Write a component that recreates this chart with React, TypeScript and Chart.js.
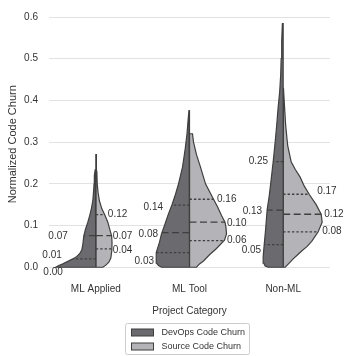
import React, { useEffect, useRef } from 'react';
import { Chart, registerables } from 'chart.js';

Chart.register(...registerables);

// ---------------- data ----------------
const categories = ['ML Applied', 'ML Tool', 'Non-ML'];
const seriesNames = ['DevOps Code Churn', 'Source Code Churn'];
const yTickValues = [0, 0.1, 0.2, 0.3, 0.4, 0.5, 0.6];

// half-violin outlines: [normalized churn, density half-width]
const mlAppliedDevOpsShape = [
  [0, 40], [0.004, 37], [0.008, 33], [0.014, 28], [0.02, 23], [0.026, 19], [0.033, 16],
  [0.042, 14], [0.055, 13], [0.075, 12], [0.09, 10.5], [0.108, 8], [0.125, 6], [0.14, 4.5],
  [0.16, 3], [0.18, 2.3], [0.2, 1.8], [0.22, 1.5], [0.235, 0.6],
];
const mlAppliedSourceShape = [
  [0, 7], [0.005, 10], [0.012, 13], [0.022, 15], [0.04, 16], [0.06, 16.2], [0.075, 15.8],
  [0.09, 14], [0.108, 12], [0.125, 9], [0.14, 6], [0.16, 3.5], [0.18, 2.2], [0.2, 1.4],
  [0.23, 1], [0.255, 0.8], [0.27, 0.4],
];
const mlToolDevOpsShape = [
  [0, 28], [0.004, 31], [0.01, 33], [0.02, 33.5], [0.035, 33], [0.06, 30], [0.08, 28],
  [0.1, 25], [0.125, 21.5], [0.15, 17.5], [0.175, 14], [0.2, 11], [0.24, 7], [0.28, 4.5],
  [0.32, 2.5], [0.35, 1.5], [0.377, 0.5],
];
const mlToolSourceShape = [
  [0, 7], [0.008, 10], [0.015, 14], [0.03, 20], [0.045, 27], [0.065, 35], [0.08, 37],
  [0.095, 36.5], [0.108, 35.5], [0.124, 32], [0.145, 28], [0.163, 24], [0.2, 16],
  [0.24, 11], [0.27, 7], [0.3, 4], [0.32, 3],
];
const nonMlDevOpsShape = [
  [0, 15], [0.003, 18], [0.01, 19.5], [0.025, 20], [0.053, 19], [0.092, 17.5], [0.138, 16],
  [0.17, 14], [0.2, 12.5], [0.253, 10], [0.3, 8], [0.34, 6.5], [0.384, 5], [0.42, 3.5],
  [0.46, 2.5], [0.5, 2], [0.54, 1.5], [0.584, 0.8],
];
const nonMlSourceShape = [
  [0, 2], [0.01, 6], [0.02, 10], [0.03, 14.5], [0.039, 18.5], [0.05, 24], [0.062, 28.5],
  [0.085, 35], [0.108, 39], [0.127, 38], [0.15, 33], [0.175, 26], [0.195, 21], [0.216, 17],
  [0.235, 12], [0.253, 8], [0.275, 6], [0.292, 4.5], [0.34, 2.5], [0.4, 1], [0.43, 0.3],
];

// inner lines: medians (dashed) and quartiles (dotted)
const mlAppliedDevOpsMedian = 0.076;
const mlAppliedDevOpsQuartiles = [0.02];
const mlAppliedSourceMedian = 0.076;
const mlAppliedSourceQuartiles = [0.044, 0.126];
const mlToolDevOpsMedian = 0.083;
const mlToolDevOpsQuartiles = [0.035, 0.149];
const mlToolSourceMedian = 0.108;
const mlToolSourceQuartiles = [0.064, 0.163];
const nonMlDevOpsMedian = 0.137;
const nonMlDevOpsQuartiles = [0.054, 0.253];
const nonMlSourceMedian = 0.127;
const nonMlSourceQuartiles = [0.085, 0.175];

// annotation texts
const mlAppliedDevOpsLabels = ['0.07', '0.01', '0.00'];
const mlAppliedSourceLabels = ['0.12', '0.07', '0.04'];
const mlToolDevOpsLabels = ['0.14', '0.08', '0.03'];
const mlToolSourceLabels = ['0.16', '0.10', '0.06'];
const nonMlDevOpsLabels = ['0.25', '0.13', '0.05'];
const nonMlSourceLabels = ['0.17', '0.12', '0.08'];

// ---------------- layout / style ----------------
const DENSITY_SCALE = 1 / 93.67; // density half-width -> category units
const FONT = 'Liberation Sans, Arial, Helvetica, sans-serif';
const TEXT = '#333333';
const EDGE = '#3f3f3f';
const FILLS = ['#6b6b6f', '#b4b4b8'];

// label anchors: [churn value for vertical position, horizontal pixel offset from centre]
const LABEL_LAYOUT = [
  [[0.0736, -28], [0.0276, -34], [-0.0115, -33]],
  [[0.1264, 12], [0.0736, 17], [0.0414, 17]],
  [[0.1448, -26.5], [0.0782, -31.5], [0.0138, -35.5]],
  [[0.1632, 27.5], [0.1057, 37.5], [0.0644, 37.5]],
  [[0.2552, -15], [0.1333, -21], [0.0414, -22]],
  [[0.1816, 34], [0.1264, 41], [0.0851, 39]],
];

const halves = [
  { cat: 0, series: 0, shape: mlAppliedDevOpsShape, median: mlAppliedDevOpsMedian, quartiles: mlAppliedDevOpsQuartiles, labels: mlAppliedDevOpsLabels },
  { cat: 0, series: 1, shape: mlAppliedSourceShape, median: mlAppliedSourceMedian, quartiles: mlAppliedSourceQuartiles, labels: mlAppliedSourceLabels },
  { cat: 1, series: 0, shape: mlToolDevOpsShape, median: mlToolDevOpsMedian, quartiles: mlToolDevOpsQuartiles, labels: mlToolDevOpsLabels },
  { cat: 1, series: 1, shape: mlToolSourceShape, median: mlToolSourceMedian, quartiles: mlToolSourceQuartiles, labels: mlToolSourceLabels },
  { cat: 2, series: 0, shape: nonMlDevOpsShape, median: nonMlDevOpsMedian, quartiles: nonMlDevOpsQuartiles, labels: nonMlDevOpsLabels },
  { cat: 2, series: 1, shape: nonMlSourceShape, median: nonMlSourceMedian, quartiles: nonMlSourceQuartiles, labels: nonMlSourceLabels },
];

function widthAt(shape: number[][], v: number): number {
  if (v <= shape[0][0]) return shape[0][1];
  for (let i = 1; i < shape.length; i++) {
    if (v <= shape[i][0]) {
      const [v0, w0] = shape[i - 1];
      const [v1, w1] = shape[i];
      return w0 + ((w1 - w0) * (v - v0)) / (v1 - v0);
    }
  }
  return shape[shape.length - 1][1];
}

function buildDatasets() {
  const polys: any[] = [];
  const lines: any[] = [];
  halves.forEach((h) => {
    const side = h.series === 0 ? -1 : 1;
    const c = h.cat;
    const bottom = h.shape[0][0];
    const top = h.shape[h.shape.length - 1][0];
    const pts: { x: number; y: number }[] = [{ x: c, y: bottom }];
    h.shape.forEach(([v, w]) => pts.push({ x: c + side * w * DENSITY_SCALE, y: v }));
    pts.push({ x: c, y: top });
    pts.push({ x: c, y: bottom });
    polys.push({
      label: seriesNames[h.series],
      data: pts,
      showLine: true,
      fill: 'shape',
      backgroundColor: FILLS[h.series],
      borderColor: EDGE,
      borderWidth: 1.2,
      pointRadius: 0,
      order: 2,
    });
    const addLine = (v: number, dash: number[]) => {
      lines.push({
        data: [
          { x: c, y: v },
          { x: c + side * widthAt(h.shape, v) * DENSITY_SCALE, y: v },
        ],
        showLine: true,
        fill: false,
        borderColor: EDGE,
        borderWidth: 1.3,
        borderDash: dash,
        pointRadius: 0,
        order: 1,
      });
    };
    addLine(h.median, [7, 3.5]);
    h.quartiles.forEach((q) => addLine(q, [2.4, 2]));
  });
  return [...lines, ...polys];
}

const valueLabelPlugin = {
  id: 'valueLabels',
  afterDatasetsDraw(chart: any) {
    const { ctx, scales } = chart;
    ctx.save();
    ctx.font = `10px ${FONT}`;
    ctx.fillStyle = TEXT;
    ctx.textBaseline = 'middle';
    halves.forEach((h, i) => {
      const cx = scales.x.getPixelForValue(h.cat);
      ctx.textAlign = h.series === 0 ? 'right' : 'left';
      h.labels.forEach((t, j) => {
        const [yv, dx] = LABEL_LAYOUT[i][j];
        ctx.fillText(t, cx + dx, scales.y.getPixelForValue(yv));
      });
    });
    ctx.restore();
  },
};

const boxLegendPlugin = {
  id: 'boxLegend',
  afterDraw(chart: any) {
    const { ctx, chartArea } = chart;
    const mid = (chartArea.left + chartArea.right) / 2;
    const left = Math.round(mid - 65) + 0.5;
    const top = chart.height - 32.5;
    const w = 124;
    const h = 31;
    ctx.save();
    ctx.beginPath();
    ctx.roundRect(left, top, w, h, 2);
    ctx.fillStyle = '#ffffff';
    ctx.fill();
    ctx.strokeStyle = '#cccccc';
    ctx.lineWidth = 1;
    ctx.stroke();
    ctx.font = `9px ${FONT}`;
    ctx.textAlign = 'left';
    ctx.textBaseline = 'middle';
    seriesNames.forEach((name, i) => {
      const cy = top + 9 + i * 14;
      ctx.fillStyle = FILLS[i];
      ctx.fillRect(left + 6, cy - 3.5, 22, 7);
      ctx.strokeStyle = EDGE;
      ctx.lineWidth = 1;
      ctx.strokeRect(left + 6, cy - 3.5, 22, 7);
      ctx.fillStyle = TEXT;
      ctx.fillText(name, left + 36, cy);
    });
    ctx.restore();
  },
};

export default function App() {
  const ref = useRef<HTMLCanvasElement | null>(null);
  useEffect(() => {
    if (!ref.current) return;
    Chart.defaults.font.family = FONT;
    const chart = new Chart(ref.current, {
      type: 'scatter',
      data: { datasets: buildDatasets() },
      options: {
        animation: false,
        responsive: false,
        events: [],
        layout: { padding: { top: 6, right: 14, bottom: 36.6, left: 0 } },
        plugins: { legend: { display: false }, tooltip: { enabled: false } },
        scales: {
          x: {
            type: 'linear',
            min: -0.5,
            max: 2.5,
            grid: { display: false, drawTicks: false },
            border: { display: false },
            afterBuildTicks: (s: any) => {
              s.ticks = categories.map((_, i) => ({ value: i }));
            },
            ticks: {
              callback: (v: any) => categories[v as number],
              font: { size: 10 },
              color: TEXT,
              padding: 12,
              autoSkip: false,
              maxRotation: 0,
            },
            title: {
              display: true,
              text: 'Project Category',
              font: { size: 10 },
              color: TEXT,
              padding: { top: 0, bottom: 2 },
            },
            afterFit: (s: any) => {
              s.height = 48;
            },
          },
          y: {
            type: 'linear',
            min: -0.01,
            max: 0.6,
            afterBuildTicks: (s: any) => {
              s.ticks = yTickValues.map((v) => ({ value: v }));
            },
            grid: { color: '#e2e2e2', lineWidth: 1, drawTicks: false },
            border: { display: false },
            ticks: {
              callback: (v: any) => Number(v).toFixed(1),
              font: { size: 10 },
              color: TEXT,
              padding: 11,
            },
            title: {
              display: true,
              text: 'Normalized Code Churn',
              font: { size: 11 },
              color: TEXT,
              padding: { top: 6, bottom: 0 },
            },
            afterFit: (s: any) => {
              s.width = 49;
            },
          },
        },
      } as any,
      plugins: [valueLabelPlugin, boxLegendPlugin],
    });
    return () => chart.destroy();
  }, []);
  return (
    <div style={{ position: 'absolute', left: 0, top: 0, width: 344, height: 356 }}>
      <canvas ref={ref} width={344} height={356} />
    </div>
  );
}
